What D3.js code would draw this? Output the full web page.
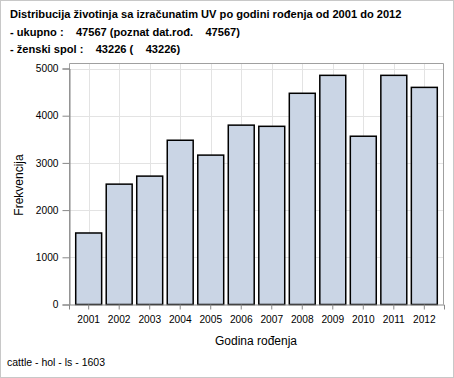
<!DOCTYPE html>
<html><head><meta charset="utf-8">
<script src="https://cdn.jsdelivr.net/npm/d3@7"></script>
<style>body{margin:0;background:#fff}svg{display:block}text{font-family:"Liberation Sans",Arial,sans-serif}</style>
</head><body>
<svg id="c" width="454" height="378"></svg>
<script>
const years = ["2001","2002","2003","2004","2005","2006","2007","2008","2009","2010","2011","2012"];
const counts = [1515,2550,2720,3480,3165,3800,3775,4475,4855,3565,4855,4600];
const yTicks = [0,1000,2000,3000,4000,5000];
const titleLines = ["Distribucija životinja sa izračunatim UV po godini rođenja od 2001 do 2012",
  "- ukupno :    47567 (poznat dat.rođ.    47567)",
  "- ženski spol :    43226 (    43226)"];
const xTitle = "Godina rođenja";
const yTitle = "Frekvencija";
const footer = "cattle - hol - ls - 1603";

const svg = d3.select("#c");
svg.append("rect").attr("x",0.5).attr("y",0.5).attr("width",453).attr("height",377)
  .attr("fill","#fff").attr("stroke","#c8c8c8");

const L=69, R=444, T=63.5, B=304.5;
const x = d3.scaleBand().domain(years).range([L,R]).paddingInner(0.15).paddingOuter(0.22);
const y = d3.scaleLinear().domain([0,5000]).range([B,68.5]);

// grid
svg.append("g").selectAll("line").data(years).join("line")
  .attr("x1",d=>Math.round(x(d)+x.bandwidth()/2)+0.5).attr("x2",d=>Math.round(x(d)+x.bandwidth()/2)+0.5)
  .attr("y1",T).attr("y2",B).attr("stroke","#e3e3e3");
svg.append("g").selectAll("line").data(yTicks.slice(1)).join("line")
  .attr("x1",L).attr("x2",R).attr("y1",d=>Math.round(y(d))+0.5).attr("y2",d=>Math.round(y(d))+0.5)
  .attr("stroke","#e3e3e3");
// frame
svg.append("path").attr("d",`M${L+0.5},${B}V${T}H${R-0.5}V${B}`).attr("fill","none").attr("stroke","#a0a0a0");

// bars
svg.append("g").selectAll("rect").data(years).join("rect")
  .attr("x",d=>x(d)).attr("width",x.bandwidth())
  .attr("y",(d,i)=>y(counts[i])).attr("height",(d,i)=>B-y(counts[i]))
  .attr("fill","#cad5e5").attr("stroke","#000").attr("stroke-width",1.5);

// axes
const ya = svg.append("g").attr("transform",`translate(${L+0.5},0)`)
  .call(d3.axisLeft(y).tickValues(yTicks).tickSize(7).tickPadding(4).tickFormat(d3.format("d")));
const xa = svg.append("g").attr("transform",`translate(0,${B})`)
  .call(d3.axisBottom(x).tickSize(5).tickPadding(6));
[ya,xa].forEach(a=>{
  a.select(".domain").attr("stroke","#888");
  a.selectAll(".tick line").attr("stroke","#888");
  a.selectAll("text").attr("font-size",10.2).attr("fill","#000").attr("font-family","Liberation Sans, Arial, sans-serif");
});

// titles
svg.append("g").selectAll("text").data(titleLines).join("text")
  .attr("x",10).attr("y",(d,i)=>18+i*17.5).attr("font-size",11.1).attr("font-weight","bold")
  .attr("xml:space","preserve").style("white-space","pre").text(d=>d);
svg.append("text").attr("x",256).attr("y",345).attr("text-anchor","middle").attr("font-size",12).text(xTitle);
svg.append("text").attr("transform","translate(23,185) rotate(-90)").attr("text-anchor","middle").attr("font-size",12).text(yTitle);
svg.append("text").attr("x",7).attr("y",366).attr("font-size",10.5).text(footer);
</script>
</body></html>
